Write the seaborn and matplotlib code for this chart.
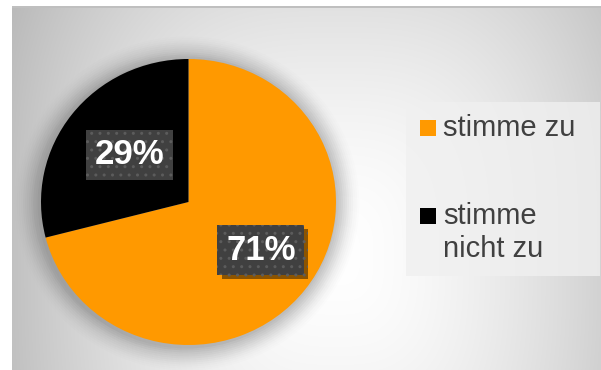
import numpy as np
import matplotlib
matplotlib.use("Agg")
import matplotlib.pyplot as plt
import matplotlib.patheffects as pe
import matplotlib.transforms as mtransforms
from matplotlib.patches import Rectangle, Ellipse
import seaborn as sns

categories = ["stimme zu", "stimme\nnicht zu"]
values = [71, 29]
colors = ["#FF9900", "#000000"]

sns.set_theme(style="white")
plt.rcParams['font.family'] = ['Liberation Sans', 'DejaVu Sans']

W, H = 601, 370
fig = plt.figure(figsize=(W / 100, H / 100), dpi=100)
fig.patch.set_facecolor("white")


def fx(px):
    return px / W


def fy(py):
    return 1 - py / H


# background frame with gradient
fx0, fy0 = 12, 6
bg = fig.add_axes([fx0 / W, 0, (W - fx0) / W, (H - fy0) / H])
bg.set_axis_off()
yy, xx = np.mgrid[fy0:H, fx0:W]
cx, cy = 335, 255
dx = np.abs(xx - cx) / 330.0
dy = np.abs(yy - cy) / 400.0
d = (dx ** 3 + dy ** 3) ** (1 / 3)
val = 1.0 - 0.25 * np.clip(d, 0, 1.3) ** 1.6
img = np.dstack([val, val, val])
bg.imshow(img, aspect="auto", extent=(0, 1, 0, 1), interpolation="bilinear")
bg.set_xlim(0, 1)
bg.set_ylim(0, 1)
fig.add_artist(Rectangle((fx(12), fy(8)), 1 - fx(12), 2 / H, transform=fig.transFigure,
                         facecolor="#bfbfbf", edgecolor="none"))

# pie axes
pcx, pcy = 188.5, 202
rx, ry = 147.5, 143
ax = fig.add_axes([(pcx - rx) / W, (H - pcy - ry) / H, 2 * rx / W, 2 * ry / H])
ax.set_axis_off()

# soft shadow halo
for i, a in enumerate(np.linspace(0.06, 0.008, 12)):
    s = 1.0 + 0.014 * (i + 1)
    ax.add_patch(Ellipse((-0.01, -0.01), 2 * s, 2 * s, facecolor="#505050",
                         edgecolor="none", alpha=a, zorder=0, clip_on=False))

wedges, texts, autotexts = ax.pie(
    values, colors=colors, startangle=90, counterclock=False,
    autopct=lambda p: f"{p:.0f}%", pctdistance=0.56, radius=1.0,
    wedgeprops=dict(linewidth=0), frame=False,
    textprops=dict(color="white", fontsize=25, fontweight="bold"))
ax.set_xlim(-1, 1)
ax.set_ylim(-1, 1)
ax.set_aspect("auto")

nudges = [(7, 1), (6, -2)]
for i, t in enumerate(autotexts):
    t.set_transform(ax.transData + mtransforms.ScaledTranslation(
        nudges[i][0] / 100, nudges[i][1] / 100, fig.dpi_scale_trans))
    t.set_bbox(dict(boxstyle="square,pad=0.25", facecolor="#404040",
                    edgecolor="#5c5c5c", linewidth=0, hatch=".."))
    if i == 0:
        t.get_bbox_patch().set_path_effects(
            [pe.SimplePatchShadow(offset=(3, -3), shadow_rgbFace="#000000", alpha=0.45),
             pe.Normal()])

# legend (drawn manually to match the reference layout)
fig.add_artist(Rectangle((fx(406), fy(276)), fx(600) - fx(406), (276 - 102) / H,
                         transform=fig.transFigure, facecolor="#f0f0f0",
                         edgecolor="none", alpha=0.8))
entry_y = [128, 216]
for c, lab, ey in zip(colors, categories, entry_y):
    fig.add_artist(Rectangle((fx(420), fy(ey + 8)), 16 / W, 16 / H,
                             transform=fig.transFigure, facecolor=c, edgecolor="none"))
    fig.text(fx(443), fy(ey - 14), lab, fontsize=21, color="#404040",
             ha="left", va="top", linespacing=1.22)

fig.savefig("out.png", dpi=100)
